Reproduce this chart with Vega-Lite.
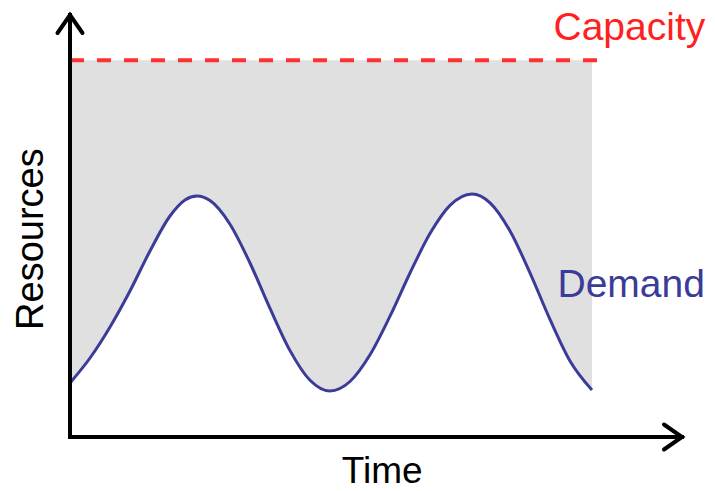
{
  "$schema": "https://vega.github.io/schema/vega-lite/v6.json",
  "width": 612,
  "height": 422,
  "autosize": {"type": "none"},
  "padding": {"left": 70, "top": 15, "right": 33, "bottom": 54},
  "background": "white",
  "config": {"view": {"stroke": null}},
  "datasets": {
    "demand": [
      {"t": 0, "demand": 12.8, "capacity": 89.3},
      {"t": 3.27, "demand": 18.72, "capacity": 89.3},
      {"t": 6.54, "demand": 26.07, "capacity": 89.3},
      {"t": 9.8, "demand": 34.6, "capacity": 89.3},
      {"t": 13.07, "demand": 44.08, "capacity": 89.3},
      {"t": 16.34, "demand": 52.37, "capacity": 89.3},
      {"t": 18.79, "demand": 56.18, "capacity": 89.3},
      {"t": 20.75, "demand": 57.11, "capacity": 89.3},
      {"t": 22.88, "demand": 56.02, "capacity": 89.3},
      {"t": 26.14, "demand": 50.43, "capacity": 89.3},
      {"t": 29.41, "demand": 41.23, "capacity": 89.3},
      {"t": 32.68, "demand": 30.47, "capacity": 89.3},
      {"t": 35.95, "demand": 20.47, "capacity": 89.3},
      {"t": 39.22, "demand": 13.44, "capacity": 89.3},
      {"t": 42.48, "demand": 10.9, "capacity": 89.3},
      {"t": 45.75, "demand": 13.15, "capacity": 89.3},
      {"t": 49.02, "demand": 19.48, "capacity": 89.3},
      {"t": 52.29, "demand": 28.63, "capacity": 89.3},
      {"t": 55.56, "demand": 38.86, "capacity": 89.3},
      {"t": 58.82, "demand": 48.2, "capacity": 89.3},
      {"t": 62.09, "demand": 54.88, "capacity": 89.3},
      {"t": 65.69, "demand": 57.58, "capacity": 89.3},
      {"t": 68.63, "demand": 55.5, "capacity": 89.3},
      {"t": 71.9, "demand": 48.82, "capacity": 89.3},
      {"t": 75.16, "demand": 38.89, "capacity": 89.3},
      {"t": 78.43, "demand": 27.87, "capacity": 89.3},
      {"t": 81.7, "demand": 18.03, "capacity": 89.3},
      {"t": 85.29, "demand": 11.14, "capacity": 89.3}
    ],
    "capline": [{"t1": 0, "t2": 87.4, "c": 89.3}],
    "axes": [
      {"x1": 0, "y1": 0, "x2": 0, "y2": 100},
      {"x1": 0, "y1": 0, "x2": 100, "y2": 0}
    ],
    "arrows": [
      {"x": 0, "y": 100, "dir": "up"},
      {"x": 100, "y": 0, "dir": "right"}
    ],
    "lblCapacity": [{"t": 91.4, "r": 94.1, "label": "Capacity"}],
    "lblDemand": [{"t": 91.7, "r": 33.2, "label": "Demand"}],
    "lblTime": [{"t": 51.0, "r": -10.9, "label": "Time"}],
    "lblResources": [{"t": -4.4, "r": 46.9, "label": "Resources"}]
  },
  "layer": [
    {
      "data": {"name": "demand"},
      "mark": {"type": "area", "interpolate": "monotone", "color": "#e0e0e0"},
      "encoding": {
        "x": {"field": "t", "type": "quantitative", "scale": {"domain": [0, 100], "nice": false, "zero": false}, "axis": null},
        "y": {"field": "capacity", "type": "quantitative", "scale": {"domain": [0, 100], "nice": false, "zero": false}, "axis": null},
        "y2": {"field": "demand"}
      }
    },
    {
      "data": {"name": "capline"},
      "mark": {"type": "rule", "color": "#ff3030", "strokeWidth": 4, "strokeDash": [14, 13]},
      "encoding": {
        "x": {"field": "t1", "type": "quantitative", "scale": {"domain": [0, 100], "nice": false, "zero": false}, "axis": null},
        "x2": {"field": "t2"},
        "y": {"field": "c", "type": "quantitative", "scale": {"domain": [0, 100], "nice": false, "zero": false}, "axis": null}
      }
    },
    {
      "data": {"name": "demand"},
      "mark": {"type": "line", "interpolate": "monotone", "color": "#3b3b98", "strokeWidth": 3},
      "encoding": {
        "x": {"field": "t", "type": "quantitative", "scale": {"domain": [0, 100], "nice": false, "zero": false}, "axis": null},
        "y": {"field": "demand", "type": "quantitative", "scale": {"domain": [0, 100], "nice": false, "zero": false}, "axis": null}
      }
    },
    {
      "data": {"name": "axes"},
      "mark": {"type": "rule", "color": "black", "strokeWidth": 4, "strokeCap": "square"},
      "encoding": {
        "x": {"field": "x1", "type": "quantitative", "scale": {"domain": [0, 100], "nice": false, "zero": false}, "axis": null},
        "x2": {"field": "x2"},
        "y": {"field": "y1", "type": "quantitative", "scale": {"domain": [0, 100], "nice": false, "zero": false}, "axis": null},
        "y2": {"field": "y2"}
      }
    },
    {
      "data": {"name": "arrows"},
      "mark": {"type": "point", "filled": false, "color": "black", "opacity": 1, "strokeWidth": 4, "strokeCap": "round", "strokeJoin": "miter", "size": 625},
      "encoding": {
        "x": {"field": "x", "type": "quantitative", "scale": {"domain": [0, 100], "nice": false, "zero": false}, "axis": null},
        "y": {"field": "y", "type": "quantitative", "scale": {"domain": [0, 100], "nice": false, "zero": false}, "axis": null},
        "shape": {"field": "dir", "type": "nominal", "scale": {"domain": ["up", "right"], "range": ["M-1,1.44L0,0L1,1.44", "M-1.44,-1L0,0L-1.44,1"]}, "legend": null}
      }
    },
    {
      "data": {"name": "lblCapacity"},
      "mark": {"type": "text", "font": "Liberation Sans", "fontSize": 39, "color": "#ff2020", "align": "center", "baseline": "alphabetic"},
      "encoding": {
        "x": {"field": "t", "type": "quantitative", "scale": {"domain": [0, 100], "nice": false, "zero": false}, "axis": null},
        "y": {"field": "r", "type": "quantitative", "scale": {"domain": [0, 100], "nice": false, "zero": false}, "axis": null},
        "text": {"field": "label"}
      }
    },
    {
      "data": {"name": "lblDemand"},
      "mark": {"type": "text", "font": "Liberation Sans", "fontSize": 39, "color": "#3b3b98", "align": "center", "baseline": "alphabetic"},
      "encoding": {
        "x": {"field": "t", "type": "quantitative", "scale": {"domain": [0, 100], "nice": false, "zero": false}, "axis": null},
        "y": {"field": "r", "type": "quantitative", "scale": {"domain": [0, 100], "nice": false, "zero": false}, "axis": null},
        "text": {"field": "label"}
      }
    },
    {
      "data": {"name": "lblTime"},
      "mark": {"type": "text", "font": "Liberation Sans", "fontSize": 37, "color": "black", "align": "center", "baseline": "alphabetic"},
      "encoding": {
        "x": {"field": "t", "type": "quantitative", "scale": {"domain": [0, 100], "nice": false, "zero": false}, "axis": null},
        "y": {"field": "r", "type": "quantitative", "scale": {"domain": [0, 100], "nice": false, "zero": false}, "axis": null},
        "text": {"field": "label"}
      }
    },
    {
      "data": {"name": "lblResources"},
      "mark": {"type": "text", "font": "Liberation Sans", "fontSize": 38, "color": "black", "align": "center", "baseline": "alphabetic", "angle": 270},
      "encoding": {
        "x": {"field": "t", "type": "quantitative", "scale": {"domain": [0, 100], "nice": false, "zero": false}, "axis": null},
        "y": {"field": "r", "type": "quantitative", "scale": {"domain": [0, 100], "nice": false, "zero": false}, "axis": null},
        "text": {"field": "label"}
      }
    }
  ]
}
